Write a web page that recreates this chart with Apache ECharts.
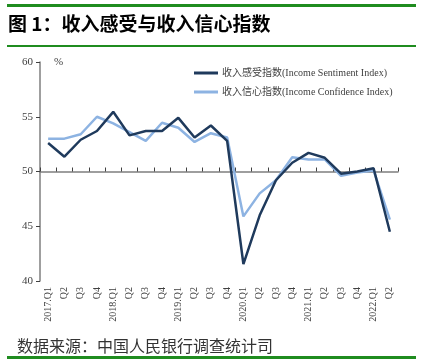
<!DOCTYPE html>
<html><head><meta charset="utf-8">
<script src="https://cdn.jsdelivr.net/npm/echarts@6/dist/echarts.min.js"></script>
<style>html,body{margin:0;padding:0;background:#fff}#c{width:442px;height:362px}</style>
</head><body><div id="c"></div>
<script>
const categories = ['2017.Q1','Q2','Q3','Q4','2018.Q1','Q2','Q3','Q4','2019.Q1','Q2','Q3','Q4','2020.Q1','Q2','Q3','Q4','2021.Q1','Q2','Q3','Q4','2022.Q1','Q2'];
const sentiment = [52.6,51.35,52.9,53.7,55.45,53.3,53.7,53.7,54.9,53.1,54.2,52.8,41.55,46.0,49.2,50.8,51.7,51.25,49.8,50.0,50.3,44.5];
const confidence = [53.0,53.0,53.4,55.0,54.4,53.6,52.8,54.45,54.0,52.7,53.5,53.1,45.9,48.0,49.2,51.3,51.1,51.1,49.6,49.9,50.1,45.6];
const yTicks = {min:40, max:60, interval:5};
const seriesNames = ['收入感受指数(Income Sentiment Index)','收入信心指数(Income Confidence Index)'];
const title = '图 1：收入感受与收入信心指数';
const source = '数据来源：中国人民银行调查统计司';

const serif = '"Liberation Serif","Noto Sans CJK SC",serif';
const chart = echarts.init(document.getElementById('c'));
chart.setOption({
  animation:false,
  backgroundColor:'#fff',
  grid:{left:40,right:44,top:62,bottom:81},
  legend:{
    orient:'vertical', left:189, top:63, itemWidth:24, itemHeight:3, itemGap:9,
    icon:'rect',
    textStyle:{fontFamily:serif,fontSize:10,color:'#404040',padding:[0,0,0,-1]},
    data:seriesNames
  },
  xAxis:[{
    type:'category', data:categories, boundaryGap:true,
    axisLine:{show:false}, axisTick:{show:false},
    axisLabel:{rotate:90,interval:0,fontFamily:serif,fontSize:10,color:'#404040',margin:6}
  },{
    type:'category', data:categories, boundaryGap:true, position:'bottom', offset:-109.5,
    axisLine:{show:true,lineStyle:{color:'#7f7f7f',width:1.5}},
    axisTick:{show:true,inside:true,length:4,interval:0,lineStyle:{color:'#404040',width:1}},
    axisLabel:{show:false}
  }],
  yAxis:{
    type:'value', min:yTicks.min, max:yTicks.max, interval:yTicks.interval,
    splitLine:{show:false},
    axisLine:{show:true,lineStyle:{color:'#7f7f7f',width:1.5}},
    axisTick:{show:true,length:4,lineStyle:{color:'#404040'}},
    axisLabel:{fontFamily:serif,fontSize:11,color:'#404040',margin:7}
  },
  series:[
    {name:seriesNames[1],type:'line',data:confidence,symbol:'none',lineStyle:{color:'#8db3e2',width:2.5},itemStyle:{color:'#8db3e2'}},
    {name:seriesNames[0],type:'line',data:sentiment,symbol:'none',lineStyle:{color:'#1f3a5c',width:2.5},itemStyle:{color:'#1f3a5c'}}
  ],
  graphic:[
    {type:'rect',shape:{x:7,y:4,width:409,height:3},style:{fill:'#1f8c1f'}},
    {type:'rect',shape:{x:7,y:45,width:409,height:2},style:{fill:'#1f8c1f'}},
    {type:'rect',shape:{x:7,y:356,width:409,height:3},style:{fill:'#1f8c1f'}},
    {type:'text',left:8,top:14,style:{text:title,fontFamily:'"Noto Sans CJK SC",sans-serif',fontWeight:'bold',fontSize:19,fill:'#000'}},
    {type:'text',left:17,top:338,style:{text:source,fontFamily:'"Noto Sans CJK SC",sans-serif',fontSize:16,fill:'#333'}},
    {type:'text',left:54,top:57,style:{text:'%',fontFamily:serif,fontSize:11,fill:'#404040'}}
  ]
});
</script></body></html>
